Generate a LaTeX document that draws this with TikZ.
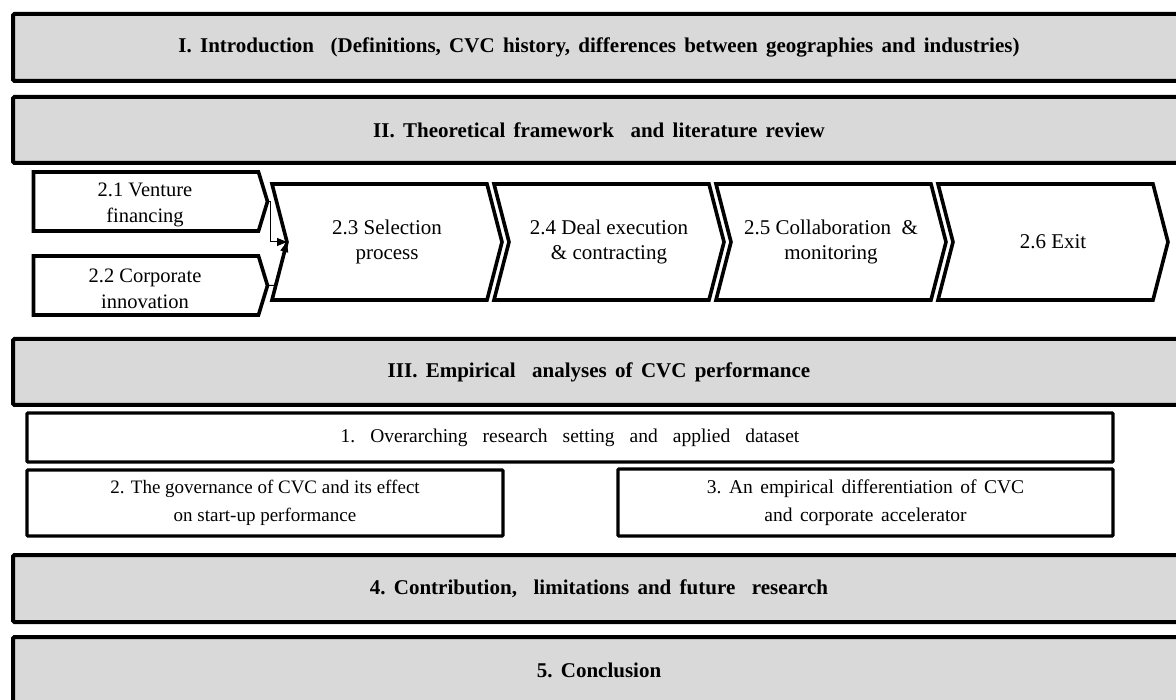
\documentclass[tikz,border=0pt]{standalone}
\usepackage{fontspec}
\setmainfont{Liberation Serif}
\usetikzlibrary{shapes.symbols,arrows.meta}
\definecolor{bandgrey}{HTML}{D9D9D9}
\newcommand{\wordgap}[1]{\frenchspacing\spaceskip=#1\relax\xspaceskip=#1\relax}
\begin{document}
\begin{tikzpicture}[x=1pt,y=-1pt,
  band/.style={draw=black,line width=4pt,fill=bandgrey,rounded corners=1.5pt,
    inner sep=0pt,outer sep=0pt,anchor=north west,minimum width=1172pt,
    font=\fontsize{21}{24}\selectfont\bfseries,
    execute at begin node={\wordgap{8.3pt}}},
  subbox/.style={draw=black,line width=3.2pt,fill=white,rounded corners=1pt,
    inner sep=0pt,outer sep=0pt,align=center,
    font=\fontsize{19}{28}\selectfont},
  chevron/.style={draw=black,line width=3.6pt,fill=white,signal,
    signal to=east,signal from=west,signal pointer angle=151,
    minimum width=230pt,minimum height=116pt,inner sep=0pt,outer sep=0pt,
    align=center,font=\fontsize{21}{25}\selectfont},
  feeder/.style={draw=black,line width=3.6pt,fill=white,signal,
    signal to=east,signal pointer angle=146,
    minimum width=234pt,minimum height=59pt,inner sep=0pt,outer sep=0pt},
  feedtext/.style={align=center,inner sep=0pt,font=\fontsize{20.5}{26}\selectfont},
  link/.style={draw=black,line width=1pt},
  tip/.style={-{Triangle[length=10pt,width=8pt,fill=black]}}
]
\clip (0,0) rectangle (1176,700);

% main chapter bands
\node[band,minimum height=67pt] (intro) at (13,14)
  {I. Introduction \ (Definitions, CVC history, differences between geographies and industries)};
\node[band,minimum height=66pt] (theory) at (13,97)
  {II. Theoretical framework \ and literature review};
\node[band,minimum height=66pt] (empir) at (13,339)
  {III. Empirical \ analyses of CVC performance};
\node[band,minimum height=67pt] (contrib) at (13,555)
  {4. Contribution, \ limitations and future \ research};
\node[band,minimum height=67pt] (concl) at (13,637)
  {5. Conclusion};

% theoretical framework: two feeders and the process chain
\node[feeder] (venture) at (146,201.5) {};
\node[feedtext] (venture-t) at (145,205) {2.1 Venture\\financing};
\node[feeder] (corpinn) at (146,285.5) {};
\node[feedtext] (corpinn-t) at (145,289) {2.2 Corporate\\innovation};
\node[chevron] (select) at (387,242) {2.3 Selection\\process};
\node[chevron] (deal) at (609,242) {2.4 Deal execution\\\& contracting};
\node[chevron] (collab) at (831,242) {2.5 Collaboration \ \&\\monitoring};
\node[chevron] (exit) at (1053,242) {2.6 Exit};

% both feeders run into the inward notch of the selection step
\draw[link,tip] (venture.east) -- ++(3,0) |- (select.west);
\draw[link,tip] (corpinn.east) -- ++(7,0) -- (select.west);

% empirical part
\node[subbox,minimum width=1086pt,minimum height=49pt,
  font=\fontsize{19.5}{28}\selectfont,
  execute at begin node={\wordgap{15pt}}] (setting) at (570,437.5)
  {1. Overarching research setting and applied dataset};
\node[subbox,minimum width=476pt,minimum height=66pt] (gov) at (265,503)
  {2. The governance of CVC and its effect\\on start-up performance};
\node[subbox,minimum width=495pt,minimum height=67pt,
  font=\fontsize{19.5}{28}\selectfont,
  execute at begin node={\wordgap{7.5pt}}] (accel) at (865.5,502.5)
  {3. An empirical differentiation of CVC\\and corporate accelerator};
\end{tikzpicture}
\end{document}
